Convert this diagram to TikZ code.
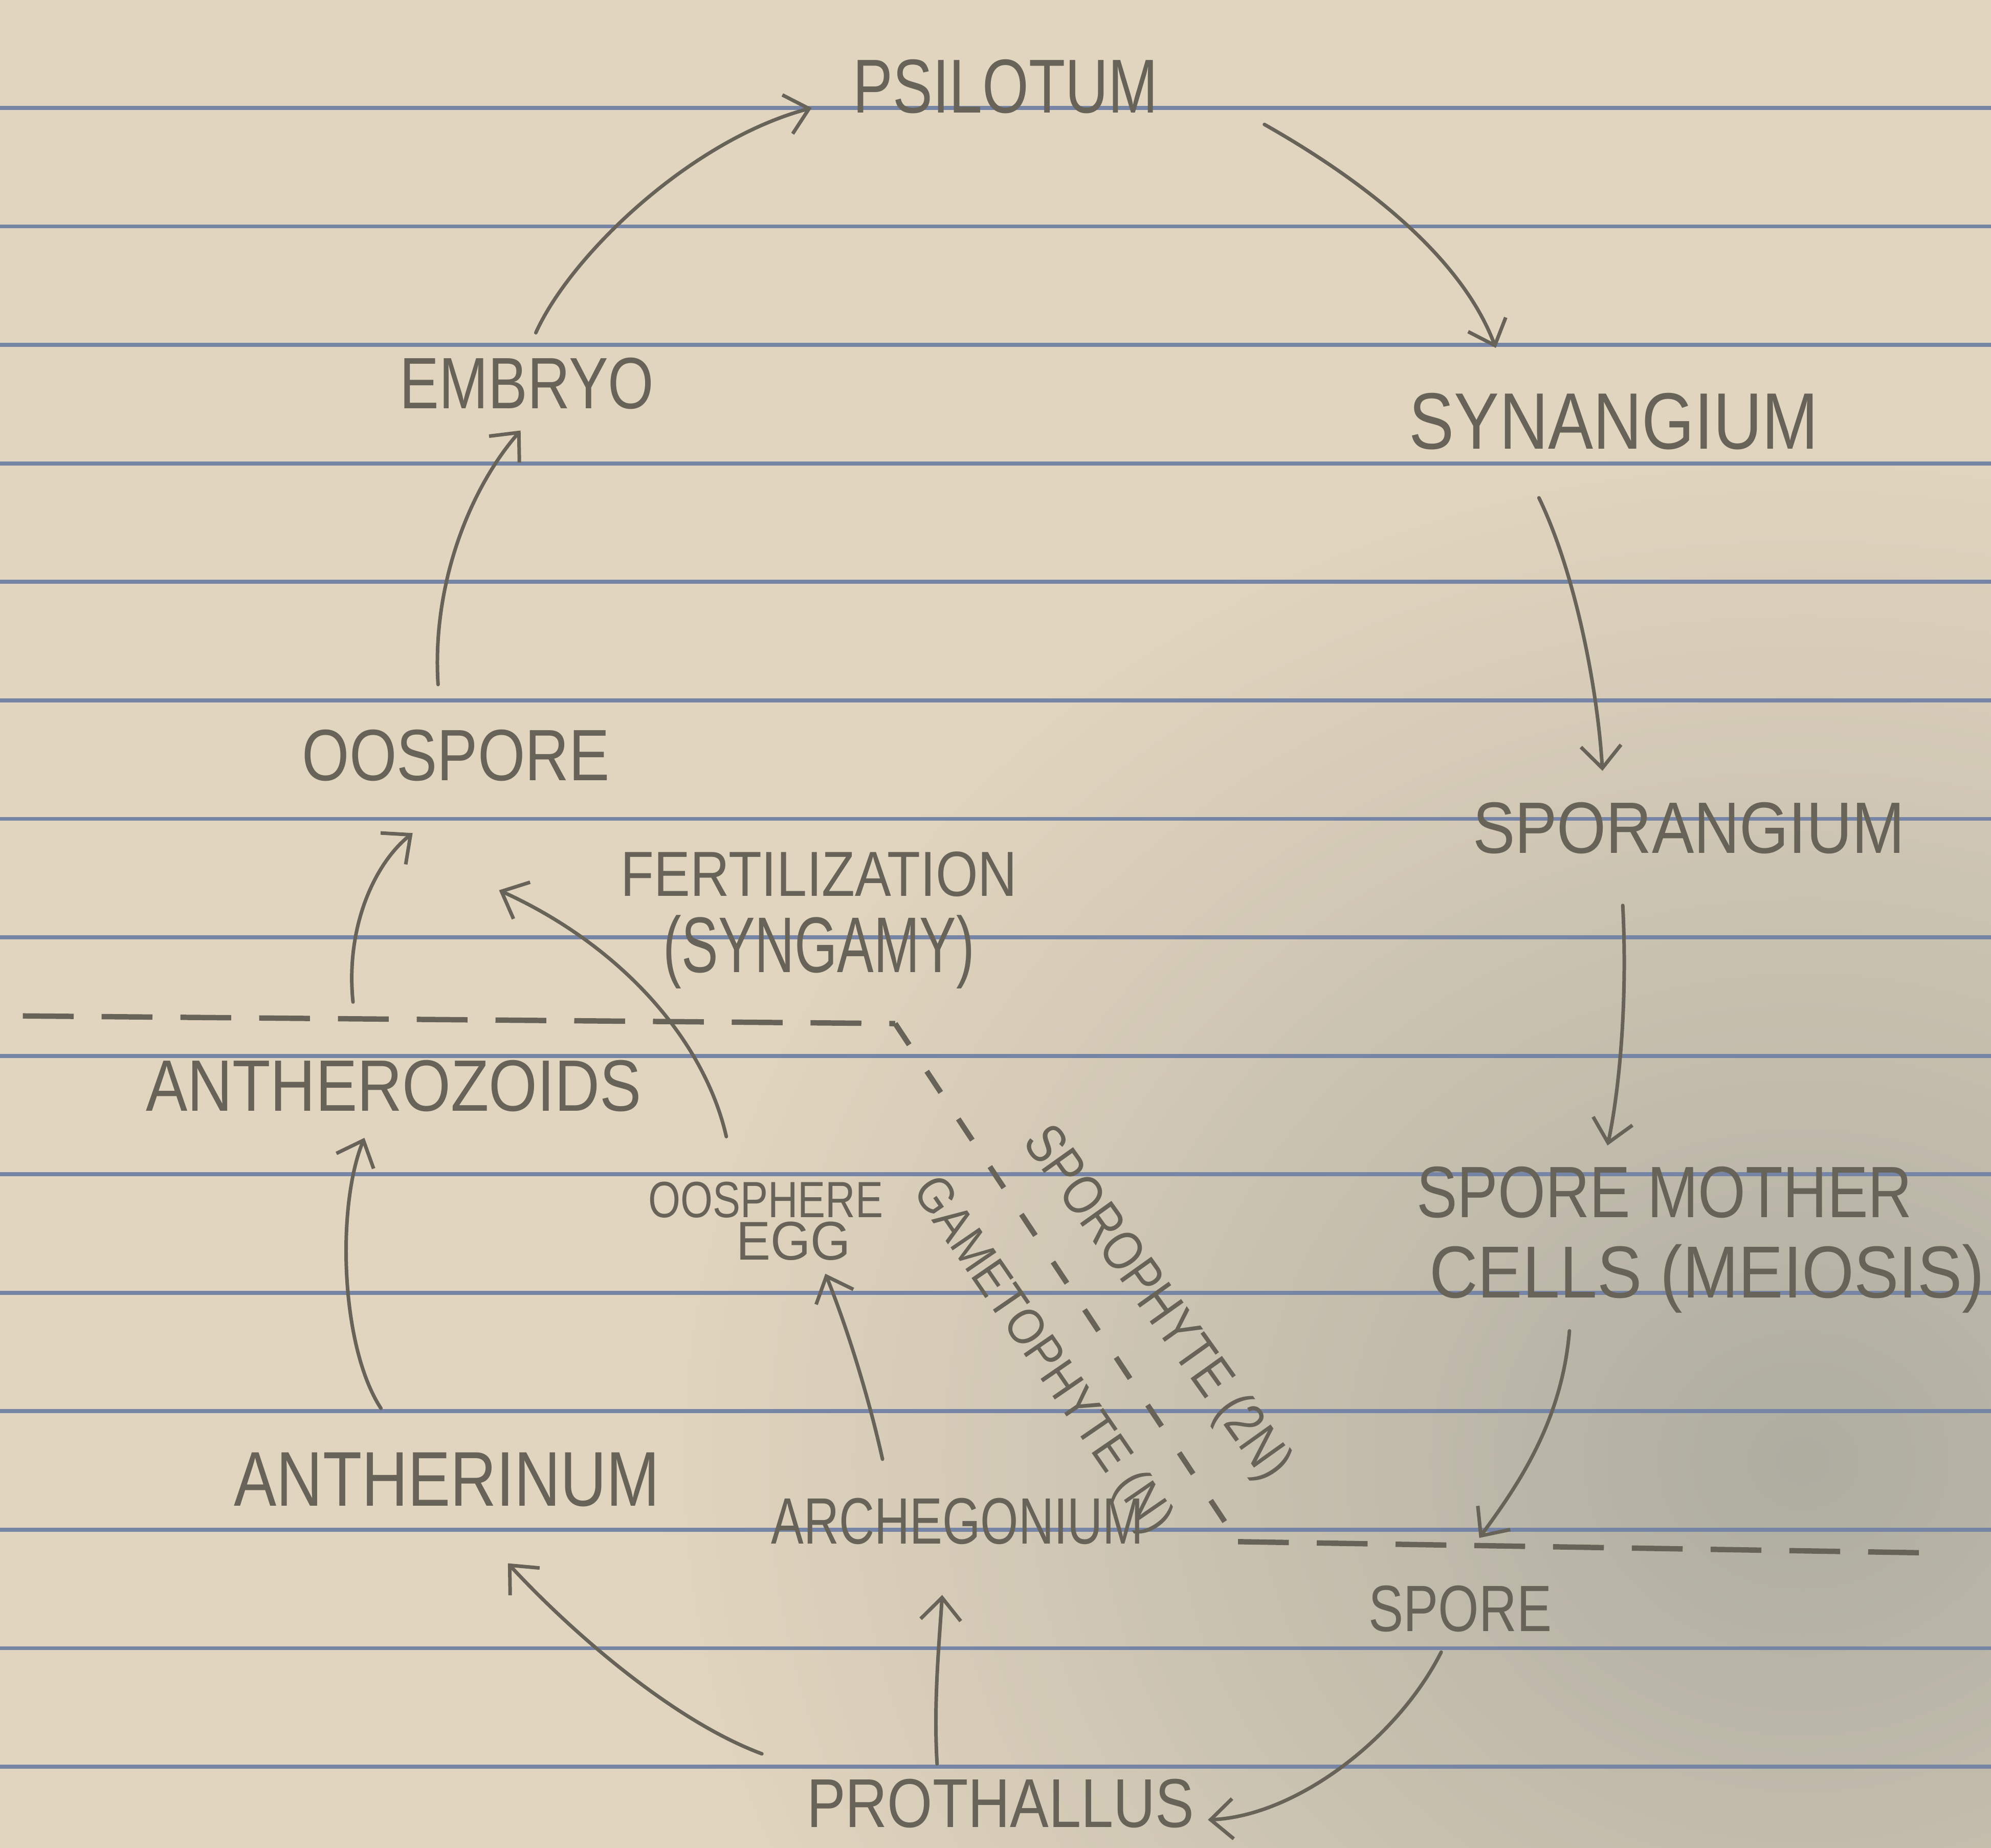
\documentclass[tikz,border=0pt]{standalone}
\usepackage{fontspec}
\setsansfont{Liberation Sans}
\usetikzlibrary{arrows.meta,calc,fadings}
\definecolor{paper}{RGB}{226,213,191}
\definecolor{shadowc}{RGB}{165,166,155}
\definecolor{pencil}{RGB}{104,99,89}
\definecolor{rulec}{RGB}{118,132,165}
\tikzfading[name=softblob, inner color=transparent!15, outer color=transparent!100]
\newcommand\hwtext[3]{\resizebox{#1cm}{#2cm}{#3}}
\begin{document}
\begin{tikzpicture}[x=0.01cm,y=-0.01cm,
  lbl/.style={inner sep=0pt, text=pencil, font=\sffamily},
  arr/.style={draw=pencil, line width=0.8pt, line cap=round, -{Straight Barb[length=5pt,width=9pt,line width=0.8pt]}},
  cutline/.style={draw=pencil, line width=1.2pt, dash pattern=on 0.4cm off 0.22cm},
  cutdiag/.style={draw=pencil, line width=1.2pt, dash pattern=on 0.2cm off 0.25cm},
  ruled/.style={draw=rulec, line width=0.9pt}]
\useasboundingbox (0,0) rectangle (1568,1455);
\clip (0,0) rectangle (1568,1455);
\fill[paper] (0,0) rectangle (1568,1455);
\fill[shadowc, path fading=softblob] (1420,1150) ellipse (900 and 800);
\foreach \k in {0,...,14} \draw[ruled] (0,{85+93.3*\k}) -- (1568,{85+93.3*\k});

% generation boundary
\coordinate (c1) at (18,800);
\coordinate (c2) at (705,806);
\coordinate (c3) at (975,1214);
\coordinate (c4) at (1530,1223);
\draw[cutline] (c1) -- (c2);
\draw[cutdiag] (c2) -- (c3);
\draw[cutline] (c3) -- (c4);

% labels
\node[lbl] (psi) at (792,68) {\hwtext{2.40}{0.42}{PSILOTUM}};
\node[lbl] (syn) at (1271,332) {\hwtext{3.22}{0.44}{SYNANGIUM}};
\node[lbl] (spg) at (1330,652) {\hwtext{3.40}{0.40}{SPORANGIUM}};
\node[lbl, anchor=north west, align=left, font=\sffamily\fontsize{12}{18}\selectfont] (smc) at (1115,918)
  {\hwtext{3.90}{0.40}{SPORE MOTHER}\\\hspace*{0.1cm}\hwtext{4.37}{0.42}{CELLS (MEIOSIS)}};
\node[lbl] (spr) at (1150,1267) {\hwtext{1.44}{0.36}{SPORE}};
\node[lbl] (pro) at (788,1420) {\hwtext{3.05}{0.38}{PROTHALLUS}};
\node[lbl] (arc) at (754,1198) {\hwtext{2.93}{0.36}{ARCHEGONIUM}};
\node[lbl] (ant) at (352,1165) {\hwtext{3.35}{0.42}{ANTHERINUM}};
\node[lbl] (azd) at (310,855) {\hwtext{3.90}{0.40}{ANTHEROZOIDS}};
\node[lbl, anchor=north, align=center, font=\sffamily\fontsize{8}{9.5}\selectfont] (egg) at (603,930)
  {\hwtext{1.85}{0.28}{OOSPHERE}\\\hspace*{0.44cm}\hwtext{0.90}{0.30}{EGG}};
\node[lbl] (oos) at (359,595) {\hwtext{2.42}{0.40}{OOSPORE}};
\node[lbl] (emb) at (415,302) {\hwtext{2.00}{0.40}{EMBRYO}};
\node[lbl, anchor=north, align=center, font=\sffamily\fontsize{12}{17}\selectfont] (fer) at (645,670)
  {\hwtext{3.12}{0.35}{FERTILIZATION}\\\hwtext{2.45}{0.45}{(SYNGAMY)}};
\node[lbl, rotate=-54.5] (spt) at (910,1027) {\hwtext{3.30}{0.32}{SPOROPHYTE (2N)}};
\node[lbl, rotate=-55.5] (gmt) at (820,1068) {\hwtext{3.30}{0.29}{GAMETOPHYTE (N)}};

% arrows
\draw[arr] ($(emb.north)+(7,-19)$) .. controls (450,200) and (545,110) .. ($(psi.west)+(-32,17)$);
\draw[arr] ($(psi.east)+(83,30)$) .. controls (1070,140) and (1150,200) .. ($(syn.north)+(-93,-35)$);
\draw[arr] ($(syn.south)+(-59,37)$) .. controls (1240,450) and (1258,540) .. ($(spg.north)+(-68,-24)$);
\draw[arr] ($(spg.south)+(-52,40)$) .. controls (1282,790) and (1275,860) .. ($(smc.north west)+(151,-16)$);
\draw[arr] ($(smc.north west)+(121,130)$) .. controls (1230,1120) and (1195,1170) .. ($(spr.north)+(15,-37)$);
\draw[arr] ($(spr.south)+(-15,15)$) .. controls (1100,1370) and (1020,1430) .. ($(pro.east)+(10,13)$);
\draw[arr] ($(pro.north)+(-50,-11)$) .. controls (735,1340) and (740,1290) .. ($(arc.south)+(-12,39)$);
\draw[arr] ($(pro.north)+(-188,-19)$) .. controls (530,1355) and (450,1285) .. ($(ant.south)+(48,44)$);
\draw[arr] ($(ant.north)+(-52,-34)$) .. controls (268,1060) and (265,950) .. ($(azd.south)+(-23,20)$);
\draw[arr] ($(arc.north)+(-59,-30)$) .. controls (683,1095) and (665,1040) .. ($(egg.north)+(47,73)$);
\draw[arr] ($(egg.north)+(-31,-35)$) .. controls (555,820) and (490,745) .. ($(oos.south)+(34,85)$);
\draw[arr] ($(azd.north)+(-32,-45)$) .. controls (272,730) and (295,680) .. ($(oos.south)+(-34,40)$);
\draw[arr] ($(oos.north)+(-14,-35)$) .. controls (340,460) and (370,385) .. ($(emb.south)+(-5,16)$);
\end{tikzpicture}
\end{document}
